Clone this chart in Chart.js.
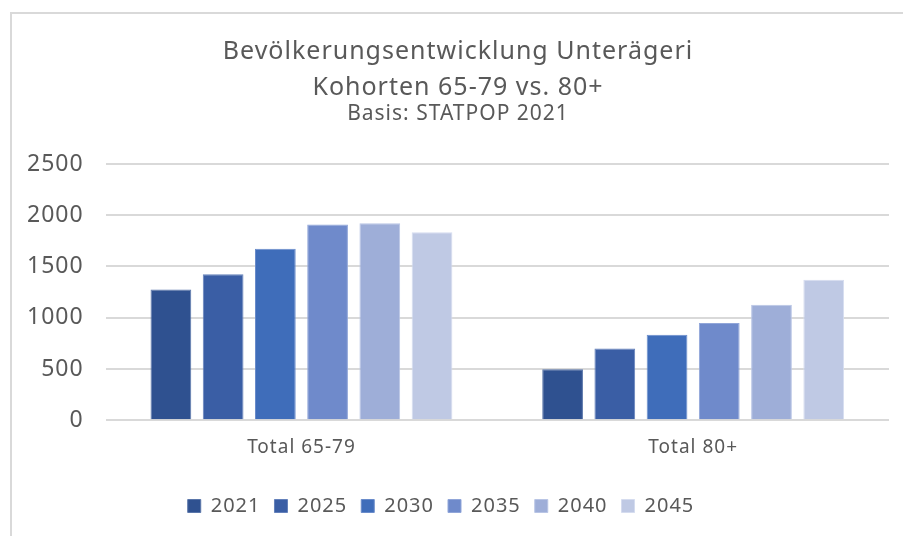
<!DOCTYPE html>
<html>
<head>
<meta charset="utf-8">
<script src="https://cdn.jsdelivr.net/npm/chart.js@4"></script>
<style>
  html, body { margin: 0; padding: 0; background: #fff; overflow: hidden; }
  body { width: 903px; height: 536px; position: relative; }
  #frame {
    position: absolute; left: 10px; top: 12px;
    width: 904px; height: 540px;
    border: 2px solid #d9d9d9; box-sizing: border-box;
  }
  #wrap { position: absolute; left: 0; top: 0; width: 903px; height: 536px; }
</style>
</head>
<body>
<div id="frame"></div>
<div id="wrap"><canvas id="chart"></canvas></div>
<script>
// Bevölkerungsentwicklung Unterägeri — Kohorten 65-79 vs. 80+

const categories = ["Total 65-79", "Total 80+"];
const years = ["2021", "2025", "2030", "2035", "2040", "2045"];

const v2021 = [1275, 497];
const v2025 = [1423, 699];
const v2030 = [1673, 835];
const v2035 = [1910, 949];
const v2040 = [1923, 1127];
const v2045 = [1835, 1371];

const yTicks = [0, 500, 1000, 1500, 2000, 2500];

const fills = ["#2f5190", "#3a5ea5", "#3f6dba", "#6f8acb", "#9eaed8", "#bfc9e4"];
const edges = ["#5a76aa", "#6481bb", "#6a8ccb", "#91a6d9", "#b9c5e5", "#d5dcef"];

const TXT = "#595959";
const FONT = "'Noto Sans', sans-serif";
const LEGEND_SHIFT = -17;

const series = [v2021, v2025, v2030, v2035, v2040, v2045];

// Excel-Schrift ist breiter gesperrt -> etwas letterSpacing auf dem Canvas
const spacing = {
  id: "spacing",
  beforeUpdate: c => { c.ctx.letterSpacing = "1px"; },
  beforeLayout: c => { c.ctx.letterSpacing = "1px"; },
  beforeDraw: c => { c.ctx.letterSpacing = "1px"; },
  afterLayout: c => {
    if (c.legend) { c.legend.left += LEGEND_SHIFT; c.legend.right += LEGEND_SHIFT; }
  },
};

const data = {
  labels: categories,
  datasets: series.map((vals, i) => ({
    label: years[i],
    data: vals,
    backgroundColor: fills[i],
    borderColor: edges[i],
    borderWidth: 1,
    categoryPercentage: 0.80,
    barPercentage: 0.78,
  })),
};

const options = {
  responsive: true,
  maintainAspectRatio: false,
  animation: false,
  layout: { padding: { left: 27, right: 14, top: 34, bottom: 10 } },
  plugins: {
    title: {
      display: true,
      text: ["Bevölkerungsentwicklung Unterägeri", "Kohorten 65-79 vs. 80+"],
      color: TXT,
      font: { family: FONT, size: 25, weight: "normal", lineHeight: 1.44 },
      padding: { top: 0, bottom: 0 },
    },
    subtitle: {
      display: true,
      text: "Basis: STATPOP 2021",
      color: TXT,
      font: { family: FONT, size: 21, weight: "normal", lineHeight: 1.0 },
      padding: { top: -2, bottom: 39 },
    },
    legend: {
      position: "bottom",
      labels: {
        color: TXT,
        font: { family: FONT, size: 20 },
        boxWidth: 13,
        boxHeight: 13,
        padding: 14,
      },
    },
    tooltip: { enabled: false },
  },
  scales: {
    x: {
      grid: { display: false, drawTicks: false },
      border: { display: false },
      ticks: { color: TXT, font: { family: FONT, size: 19 }, padding: 16 },
      afterFit: s => { s.height += 7; },
    },
    y: {
      min: 0,
      max: 2500,
      afterBuildTicks: axis => { axis.ticks = yTicks.map(v => ({ value: v })); },
      afterFit: s => { s.width -= 22; },
      grid: { color: "#d9d9d9", lineWidth: 2, drawTicks: false },
      border: { display: false },
      ticks: {
        color: TXT,
        font: { family: FONT, size: 23 },
        padding: 22,
        callback: v => String(v),
      },
    },
  },
};

new Chart(document.getElementById("chart"), { type: "bar", data, options, plugins: [spacing] });
</script>
</body>
</html>
